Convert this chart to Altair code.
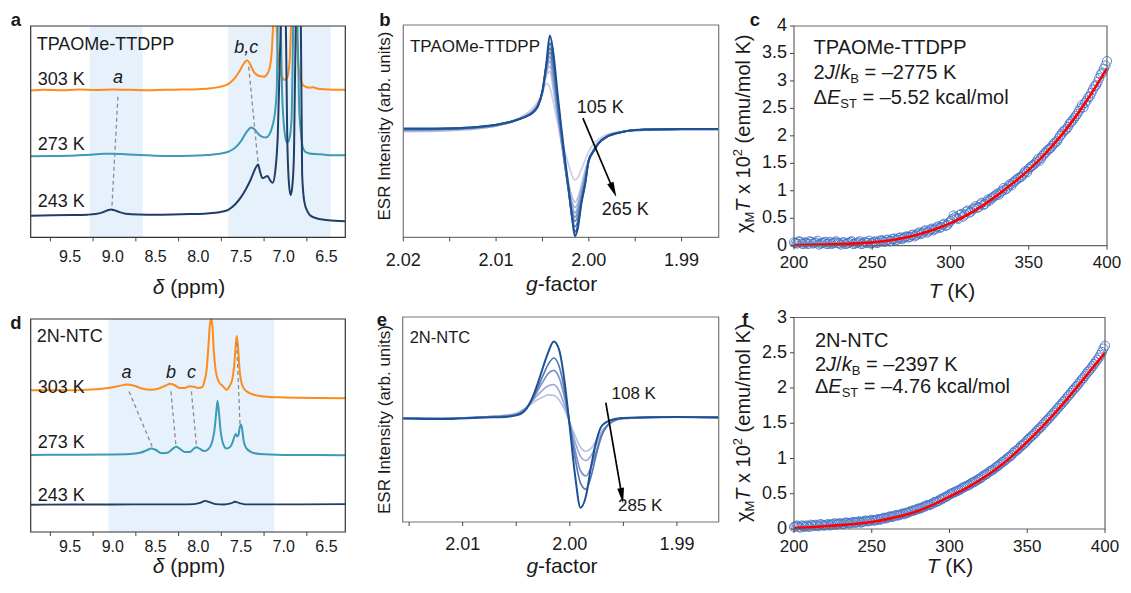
import altair as alt
import pandas as pd

W, H = 1114, 572
FONT = "Liberation Sans"
INK = "#1a1a1a"

# ------------------------------------------------------------------ data
# (a) 1H NMR, TPAOMe-TTDPP  (None = the trace leaves the top of the frame)
a303_ppm = [9.96, 9.80, 9.60, 9.40, 9.20, 9.00, 8.80, 8.60, 8.40, 8.20, 8.00, 7.85, 7.75, 7.65, 7.58, 7.52,
            7.47, 7.43, 7.40, 7.36, 7.32, 7.27, 7.23, 7.19, 7.16, 7.14, 7.125, None,
            7.085, 7.07, 7.05, 7.02, 6.99, 6.96, 6.93, 6.915, None,
            6.85, 6.835, 6.815, 6.79, 6.76, 6.70, 6.66, 6.60, 6.50, 6.40, 6.28]
a303_int = [69.5, 69.8, 69.6, 69.9, 69.7, 70.0, 69.8, 69.6, 69.8, 69.9, 70.1, 70.5, 71.2, 72.5, 75.0, 78.5,
            82.0, 83.8, 82.5, 79.0, 77.0, 76.2, 76.0, 77.5, 81.0, 88.0, 100, None,
            100, 88, 80, 76, 74.4, 75.5, 84, 100, None,
            100, 85, 77, 73, 71.5, 70.8, 71.0, 70.3, 70.0, 69.8, 69.8]
a273_ppm = [9.96, 9.70, 9.50, 9.30, 9.10, 9.00, 8.90, 8.70, 8.50, 8.30, 8.10, 7.90, 7.75, 7.65, 7.58, 7.50,
            7.44, 7.38, 7.34, 7.30, 7.25, 7.21, 7.17, 7.13, 7.10, 7.08, 7.07, None,
            7.035, 7.02, 7.00, 6.98, 6.96, 6.935, 6.91, 6.89, None,
            6.84, 6.82, 6.80, 6.78, 6.75, 6.70, 6.60, 6.50, 6.28]
a273_int = [38.3, 38.5, 38.6, 39.0, 39.5, 39.6, 39.4, 38.9, 38.6, 38.5, 38.6, 38.9, 39.5, 40.5, 42.0, 45.5,
            49.5, 52.0, 51.0, 49.0, 47.5, 47.2, 48.5, 53.0, 60.0, 72.0, 100, None,
            100, 70, 54, 47, 44.8, 46.5, 55, 100, None,
            100, 62, 50, 43, 40.5, 39.7, 39.3, 39.0, 38.8]
a243_ppm = [9.96, 9.70, 9.50, 9.30, 9.20, 9.12, 9.06, 9.02, 8.98, 8.92, 8.85, 8.70, 8.50, 8.30, 8.10, 7.90,
            7.75, 7.65, 7.57, 7.50, 7.44, 7.39, 7.35, 7.32, 7.30, 7.28, 7.25, 7.22, 7.19, 7.16, 7.13, 7.10,
            7.07, 7.035, None,
            6.975, 6.96, 6.94, 6.92, 6.90, 6.88, 6.86, None,
            6.80, 6.785, 6.76, 6.72, 6.68, 6.60, 6.50, 6.40, 6.28]
a243_int = [10.2, 10.4, 10.5, 10.7, 11.0, 11.8, 12.8, 13.2, 12.8, 11.9, 11.2, 10.8, 10.7, 10.8, 11.0, 11.3,
            11.9, 13.0, 15.5, 19.0, 23.0, 27.0, 31.0, 33.5, 34.5, 31.5, 28.0, 28.5, 29.0, 27.0, 25.8, 31.0,
            48.0, 100, None,
            100, 50, 26, 20, 24, 40, 100, None,
            100, 30, 17, 12, 10, 8.8, 8.2, 7.8, 7.6]
a_band_lo = [9.27, 7.65]
a_band_hi = [8.65, 6.45]
nmr_labels = [9.5, 9.0, 8.5, 8.0, 7.5, 7.0, 6.5]
nmr_minor = [9.73, 9.23, 8.73, 8.23, 7.73, 7.23, 6.73]

# (d) 1H NMR, 2N-NTC
d303_ppm = [9.96, 9.70, 9.40, 9.20, 9.05, 8.92, 8.84, 8.76, 8.66, 8.56, 8.46, 8.38, 8.33, 8.28, 8.22, 8.16,
            8.10, 8.05, 8.00, 7.96, 7.93, 7.90, 7.88, 7.865, 7.85, 7.835, 7.82, 7.80, 7.76, 7.71, 7.67, 7.63,
            7.60, 7.58, 7.565, 7.55, 7.535, 7.52, 7.50, 7.46, 7.40, 7.30, 7.20, 7.00, 6.80, 6.60, 6.28]
d303_int = [66.6, 66.5, 66.6, 67.0, 67.6, 68.6, 69.2, 68.8, 67.4, 66.8, 67.4, 68.8, 69.6, 69.0, 67.6, 67.6,
            68.4, 68.2, 67.6, 67.8, 70.5, 77.0, 88.0, 97.0, 100.0, 97.0, 86.0, 77.0, 70.5, 68.4, 66.8, 68.8,
            72.0, 78.0, 86.0, 92.0, 87.0, 78.0, 71.0, 67.0, 65.2, 64.0, 63.5, 63.2, 63.0, 62.9, 62.8]
d273_ppm = [9.96, 9.50, 9.00, 8.80, 8.68, 8.60, 8.55, 8.50, 8.43, 8.36, 8.30, 8.26, 8.22, 8.16, 8.10, 8.05,
            8.02, 7.98, 7.93, 7.88, 7.84, 7.81, 7.79, 7.775, 7.76, 7.74, 7.71, 7.67, 7.63, 7.60, 7.575, 7.56,
            7.545, 7.53, 7.515, 7.50, 7.485, 7.47, 7.44, 7.38, 7.28, 7.00, 6.60, 6.28]
d273_int = [36.2, 36.3, 36.4, 36.6, 37.2, 38.4, 39.2, 38.6, 37.0, 37.2, 39.0, 40.0, 39.2, 37.6, 37.6, 39.2,
            39.8, 39.0, 38.0, 39.0, 42.0, 48.0, 56.0, 61.5, 57.0, 48.0, 41.5, 39.2, 39.8, 42.0, 45.0, 46.0,
            44.8, 45.5, 49.0, 50.5, 48.0, 43.0, 39.5, 37.5, 36.6, 36.2, 36.1, 36.0]
d243_ppm = [9.96, 9.50, 9.00, 8.50, 8.20, 8.05, 7.97, 7.92, 7.87, 7.80, 7.70, 7.62, 7.57, 7.52, 7.45, 7.20,
            6.80, 6.28]
d243_int = [12.8, 12.9, 12.9, 13.0, 13.0, 13.1, 13.8, 14.6, 14.0, 13.1, 12.9, 13.4, 14.2, 13.6, 13.0, 13.0,
            13.0, 13.1]
d_band_lo = [9.05]
d_band_hi = [7.11]

# (b) ESR, TPAOMe-TTDPP, 105 K (light) ... 265 K (dark)
b_g = [2.0200, 2.0160, 2.0120, 2.0100, 2.0080, 2.0070, 2.0060, 2.0055, 2.0050, 2.0046,
       2.0042, 2.0038, 2.0034, 2.0030, 2.0026, 2.0022, 2.0018, 2.0015, 2.0012, 2.0008,
       2.0004, 2.0000, 1.9995, 1.9990, 1.9980, 1.9970, 1.9960, 1.9940, 1.9900, 1.9860]
b_esr = [
    [-0.5, 0, 2, 5, 10, 15, 22, 28, 36, 45, 41, 26, 9, -6, -19, -31, -42, -46, -44, -36,
     -27, -19, -12, -8, -3, -1, 0, 1, 1.5, 1.5],
    [0, 0.5, 2.5, 5, 9.5, 14, 20, 26, 36, 52, 56, 38, 14, -9, -30, -48, -62, -67, -63, -51,
     -37, -26, -17, -11, -4, -1.5, 0, 1, 1.5, 1.5],
    [0.5, 1, 3, 5, 9.5, 13.5, 19, 25, 36, 54, 61, 43, 16, -8, -31, -51, -67, -72, -68, -55,
     -40, -27, -18, -11, -4.5, -1.5, 0, 1, 1.5, 1.5],
    [1, 1.5, 3, 5.5, 9.5, 13, 18.5, 24, 37, 56, 66, 48, 19, -6, -31, -53, -71, -77, -72, -58,
     -42, -28, -18, -11, -4.5, -1.5, 0, 1.5, 2, 2],
    [1.5, 2, 3.5, 5.5, 9.5, 13, 18, 23.5, 37, 58, 70, 53, 22, -4, -31, -55, -74, -81, -76, -61,
     -44, -28, -19, -11.5, -5, -2, 0, 1.5, 2, 2],
    [1.5, 2, 3.5, 5.5, 9.5, 13, 18, 23, 37, 60, 74, 57, 25, -2, -30, -56, -77, -85, -80, -63,
     -46, -28, -19, -12, -5, -2, 0, 1.5, 2, 2],
    [2, 2, 3.5, 6, 10, 13, 18, 23, 37, 61, 78, 61, 29, 1, -29, -55, -80, -90, -85, -65,
     -48, -28, -19, -12, -5, -2, 0, 1.5, 2, 2],
    [2, 2.5, 4, 6, 10, 13, 17.5, 23, 38, 62, 83, 66, 33, 3, -27, -54, -82, -95, -89, -67,
     -50, -27, -19, -12, -5, -2, 0, 1.5, 2, 2],
    [2.5, 2.5, 4, 6, 10, 13, 18, 24, 38, 62, 90, 72, 38, 6, -24, -52, -82, -99, -92, -68,
     -50, -27, -19, -12, -5, -2, 0, 1.5, 2, 2],
]
b_colors = ["#c9d0e8", "#b6c1e1", "#a3b2d9", "#90a3d0", "#7d93c6", "#6a84bc", "#5675b1", "#3e64a4", "#1c5294"]
b_labels = [2.02, 2.01, 2.00, 1.99]
b_ticks = [2.020, 2.015, 2.010, 2.005, 2.000, 1.995, 1.990]

# (e) ESR, 2N-NTC, 108 K (light) ... 285 K (dark)
e_g = [2.0156, 2.0120, 2.0080, 2.0060, 2.0050, 2.0045, 2.0040, 2.0035, 2.0030, 2.0025,
       2.0020, 2.0015, 2.0010, 2.0005, 2.0000, 1.9995, 1.9990, 1.9985, 1.9980, 1.9975,
       1.9970, 1.9960, 1.9950, 1.9930, 1.9900, 1.9861]
e_esr = [
    [1.5, 1, 2.5, 4, 6, 8.5, 12, 16, 19.5, 22, 24, 23.5, 19, 10, -3, -16, -27, -31, -28, -20,
     -11, -2, 1, 2, 2.5, 2],
    [1.5, 1, 2.5, 4, 5.5, 8, 12, 18, 24, 29, 33, 34, 28, 14, -4, -22, -36, -40, -35, -24,
     -13, -2, 1, 2, 2.5, 2],
    [1.5, 1, 2.5, 3.5, 5, 7.5, 12, 19, 28, 37, 45, 48, 41, 22, -4, -30, -50, -55, -46, -30,
     -15, -2, 1, 2, 2.5, 2],
    [1, 1, 2, 3, 4.5, 7, 12, 20, 31, 43, 54, 60, 52, 29, -5, -38, -62, -68, -55, -33,
     -15, -1.5, 1.5, 2, 2.5, 2],
    [1, 0.5, 2, 2.5, 4, 6, 11, 21, 35, 51, 66, 76, 68, 38, -8, -55, -86, -75, -45, -20,
     -6, 0, 1.5, 2, 2.5, 2],
]
e_colors = ["#b9c4e5", "#9aabd9", "#7a91ca", "#5877b8", "#1c5294"]
e_labels = [2.01, 2.00, 1.99]
e_ticks = [2.015, 2.010, 2.005, 2.000, 1.995, 1.990]

# (c) chi_M T x 10^2 vs T, TPAOMe-TTDPP  (two interleaved sweeps)
T_even = [200, 202, 204, 206, 208, 210, 212, 214, 216, 218, 220, 222, 224, 226, 228, 230, 232, 234, 236, 238,
          240, 242, 244, 246, 248, 250, 252, 254, 256, 258, 260, 262, 264, 266, 268, 270, 272, 274, 276, 278,
          280, 282, 284, 286, 288, 290, 292, 294, 296, 298, 300, 302, 304, 306, 308, 310, 312, 314, 316, 318,
          320, 322, 324, 326, 328, 330, 332, 334, 336, 338, 340, 342, 344, 346, 348, 350, 352, 354, 356, 358,
          360, 362, 364, 366, 368, 370, 372, 374, 376, 378, 380, 382, 384, 386, 388, 390, 392, 394, 396, 398, 400]
T_odd = [201, 203, 205, 207, 209, 211, 213, 215, 217, 219, 221, 223, 225, 227, 229, 231, 233, 235, 237, 239,
         241, 243, 245, 247, 249, 251, 253, 255, 257, 259, 261, 263, 265, 267, 269, 271, 273, 275, 277, 279,
         281, 283, 285, 287, 289, 291, 293, 295, 297, 299, 301, 303, 305, 307, 309, 311, 313, 315, 317, 319,
         321, 323, 325, 327, 329, 331, 333, 335, 337, 339, 341, 343, 345, 347, 349, 351, 353, 355, 357, 359,
         361, 363, 365, 367, 369, 371, 373, 375, 377, 379, 381, 383, 385, 387, 389, 391, 393, 395, 397, 399]
c_chiT_even = [0.06, 0.04, 0.07, 0.03, 0.05, 0.08, 0.04, 0.06, 0.02, 0.05, 0.07, 0.04, 0.03, 0.06, 0.05, 0.02,
               0.06, 0.04, 0.07, 0.03, 0.05, 0.08, 0.04, 0.06, 0.09, 0.05, 0.08, 0.06, 0.10, 0.07, 0.11, 0.09,
               0.13, 0.11, 0.15, 0.14, 0.17, 0.16, 0.20, 0.19, 0.24, 0.23, 0.28, 0.26, 0.31, 0.30, 0.35, 0.34,
               0.40, 0.38, 0.45, 0.55, 0.50, 0.56, 0.53, 0.62, 0.60, 0.66, 0.72, 0.70, 0.78, 0.76, 0.84, 0.86,
               0.90, 0.95, 0.97, 1.05, 1.04, 1.12, 1.15, 1.20, 1.24, 1.28, 1.36, 1.40, 1.45, 1.50, 1.58, 1.60,
               1.68, 1.74, 1.78, 1.86, 1.90, 2.00, 2.08, 2.12, 2.22, 2.28, 2.36, 2.45, 2.56, 2.60, 2.70, 2.78,
               2.90, 2.98, 3.12, 3.22, 3.36]
c_chiT_odd = [0.05, 0.08, 0.04, 0.06, 0.03, 0.07, 0.05, 0.09, 0.04, 0.06, 0.03, 0.07, 0.05, 0.08, 0.04, 0.06,
              0.03, 0.05, 0.08, 0.04, 0.06, 0.03, 0.07, 0.05, 0.04, 0.07, 0.05, 0.09, 0.08, 0.10, 0.08, 0.12,
              0.10, 0.14, 0.12, 0.16, 0.15, 0.19, 0.17, 0.22, 0.21, 0.26, 0.24, 0.29, 0.28, 0.33, 0.32, 0.38,
              0.36, 0.42, 0.48, 0.52, 0.49, 0.58, 0.57, 0.64, 0.62, 0.68, 0.69, 0.75, 0.74, 0.80, 0.82, 0.88,
              0.92, 0.93, 1.00, 1.02, 1.08, 1.10, 1.17, 1.22, 1.25, 1.32, 1.34, 1.43, 1.47, 1.53, 1.55, 1.64,
              1.70, 1.76, 1.82, 1.88, 1.95, 2.03, 2.10, 2.16, 2.25, 2.32, 2.40, 2.50, 2.52, 2.64, 2.72, 2.84,
              2.92, 3.05, 3.15, 3.28]
fit_T = [200, 210, 220, 230, 240, 250, 260, 270, 280, 290, 300, 310, 320, 330, 340, 350, 360, 370, 380, 390, 400]
c_fit = [0.010, 0.015, 0.022, 0.030, 0.043, 0.060, 0.090, 0.140, 0.210, 0.300, 0.410, 0.550, 0.720, 0.920,
         1.140, 1.380, 1.660, 1.980, 2.350, 2.770, 3.230]
T_labels = [200, 250, 300, 350, 400]
c_ylabels = [0, 0.5, 1, 1.5, 2, 2.5, 3, 3.5, 4]

# (f) chi_M T x 10^2 vs T, 2N-NTC
f_chiT_even = [0.03, 0.05, 0.02, 0.04, 0.05, 0.03, 0.05, 0.06, 0.04, 0.06,
               0.05, 0.07, 0.06, 0.08, 0.07, 0.08, 0.07, 0.09, 0.08, 0.10,
               0.09, 0.11, 0.10, 0.12, 0.11, 0.13, 0.12, 0.14, 0.14, 0.16,
               0.16, 0.18, 0.18, 0.20, 0.20, 0.22, 0.23, 0.24, 0.26, 0.27,
               0.29, 0.30, 0.32, 0.34, 0.35, 0.38, 0.39, 0.42, 0.44, 0.46,
               0.49, 0.51, 0.53, 0.55, 0.58, 0.60, 0.62, 0.65, 0.67, 0.70,
               0.72, 0.76, 0.78, 0.82, 0.84, 0.88, 0.91, 0.95, 0.98, 1.02,
               1.05, 1.10, 1.13, 1.18, 1.21, 1.26, 1.30, 1.34, 1.39, 1.43,
               1.48, 1.53, 1.57, 1.62, 1.67, 1.72, 1.77, 1.82, 1.88, 1.93,
               1.98, 2.03, 2.09, 2.14, 2.20, 2.25, 2.31, 2.37, 2.43, 2.51,
               2.60]
f_chiT_odd = [0.04, 0.03, 0.05, 0.03, 0.04, 0.06, 0.04, 0.05, 0.07, 0.05,
              0.06, 0.05, 0.07, 0.06, 0.08, 0.07, 0.09, 0.08, 0.09, 0.09,
              0.10, 0.09, 0.11, 0.11, 0.12, 0.12, 0.13, 0.13, 0.15, 0.15,
              0.17, 0.17, 0.19, 0.19, 0.21, 0.21, 0.23, 0.25, 0.26, 0.28,
              0.29, 0.31, 0.33, 0.34, 0.36, 0.38, 0.40, 0.42, 0.45, 0.47,
              0.50, 0.52, 0.54, 0.56, 0.59, 0.61, 0.63, 0.66, 0.68, 0.71,
              0.74, 0.77, 0.80, 0.83, 0.86, 0.89, 0.93, 0.96, 1.00, 1.03,
              1.08, 1.11, 1.15, 1.19, 1.23, 1.28, 1.32, 1.36, 1.41, 1.45,
              1.50, 1.55, 1.60, 1.65, 1.70, 1.75, 1.80, 1.85, 1.90, 1.96,
              2.01, 2.06, 2.12, 2.17, 2.23, 2.28, 2.34, 2.40, 2.47, 2.56]
f_fit = [0.015, 0.025, 0.040, 0.055, 0.075, 0.100, 0.140, 0.190, 0.260, 0.350, 0.460, 0.570, 0.700, 0.850,
         1.030, 1.240, 1.460, 1.700, 1.960, 2.230, 2.500]
f_ylabels = [0, 0.5, 1, 1.5, 2, 2.5, 3]

# ------------------------------------------------------------------ layout (chart pixels)
A_X, A_Y = [22.7, 337.3], [229.3, 18.0]
B_X, B_Y = [395.3, 710.7], [229.3, 17.0]
C_X, C_Y = [786.0, 1099.0], [237.7, 18.0]
D_X, D_Y = [22.7, 337.3], [524.0, 311.0]
E_X, E_Y = [394.7, 710.7], [514.0, 309.0]
F_X, F_Y = [786.0, 1097.0], [521.0, 309.5]

ORANGE, TEAL, NAVY = "#ff8c1a", "#3a9bb4", "#213f66"
BAND = "#e7f1fc"


def sc(dom, rng):
    return alt.Scale(domain=dom, range=rng, nice=False, zero=False)


sa_x, sa_y = sc([9.96, 6.28], A_X), sc([0, 100], A_Y)
sd_x, sd_y = sc([9.96, 6.28], D_X), sc([0, 100], D_Y)
sb_x, sb_y = sc([2.020, 1.986], B_X), sc([-100, 100], B_Y)
se_x, se_y = sc([2.0156, 1.9861], E_X), sc([-100, 100], E_Y)
sc_x, sc_y = sc([200, 400], C_X), sc([0, 4], C_Y)
sf_x, sf_y = sc([200, 400], F_X), sc([0, 3], F_Y)

EM = {' ': .278, '.': .278, '/': .278, '=': .584, '–': .556, '(': .333, ')': .333, '-': .333,
      'K': .667, 'k': .5, 'c': .5, 'a': .556, 'l': .222, 'm': .833, 'o': .556, 'e': .556, 'u': .556,
      'x': .5, 'J': .5, 'B': .667, 'E': .667, 'S': .667, 'T': .611, 'M': .833, 'Δ': .668, 'χ': .52,
      'δ': .556, 'p': .556, 'g': .556, 'f': .278, 't': .278, 'r': .333, 'N': .722, 'C': .722,
      'P': .667, 'D': .722, 'A': .667, 'O': .778}


def tw(s, size):
    return sum(EM.get(ch, .556) for ch in s) * size


def XE(sx, f='x'):
    return alt.X(f + ':Q', scale=sx, axis=None)


def YE(sy, f='y'):
    return alt.Y(f + ':Q', scale=sy, axis=None)


def rich(pieces, x=None, y=None, sx=None, sy=None, px=None, py=None, angle=None, center=False):
    total = sum(tw(p[0], p[1]) for p in pieces)
    off = -total / 2 if center else 0.0
    out = []
    for p in pieces:
        t, size = p[0], p[1]
        style = p[2] if len(p) > 2 else 'normal'
        shift = p[3] if len(p) > 3 else 0
        lead = len(t) - len(t.lstrip(' '))
        off_here = off + lead * EM[' '] * size
        props = dict(font=FONT, fontSize=size, fontStyle=style, align='left', baseline='alphabetic',
                     dx=off_here, dy=shift, color=INK)
        if angle is not None:
            props['angle'] = angle
        if sx is not None:
            df = pd.DataFrame({'x': [x], 'y': [y], 't': [t.strip()]})
            enc = dict(x=XE(sx), y=YE(sy), text='t:N')
        else:
            df = pd.DataFrame({'t': [t.strip()]})
            enc = dict(x=alt.value(px), y=alt.value(py), text='t:N')
        out.append(alt.Chart(df).mark_text(**props).encode(**enc))
        off += tw(t, size)
    return out


def note(x, y, t, sx, sy, size, style='normal', align='left', baseline='middle'):
    return alt.Chart(pd.DataFrame({'x': [x], 'y': [y], 't': [t]})).mark_text(
        font=FONT, fontSize=size, fontStyle=style, align=align, baseline=baseline, color=INK
    ).encode(x=XE(sx), y=YE(sy), text='t:N')


def pix_text(t, px, py, size, angle=None, weight='normal', align='center', baseline='middle'):
    props = dict(font=FONT, fontSize=size, fontWeight=weight, align=align, baseline=baseline, color=INK)
    if angle is not None:
        props['angle'] = angle
    return alt.Chart(pd.DataFrame({'t': [t]})).mark_text(**props).encode(
        x=alt.value(px), y=alt.value(py), text='t:N')


def seg_df(xs, ys):
    rows, s = [], 0
    for xv, yv in zip(xs, ys):
        if xv is None:
            s += 1
            continue
        rows.append((xv, yv, s))
    return pd.DataFrame(rows, columns=['x', 'y', 's'])


def line(xs, ys, sx, sy, color, width=2.0):
    return alt.Chart(seg_df(xs, ys)).mark_line(color=color, strokeWidth=width, interpolate='monotone').encode(
        x=XE(sx), y=YE(sy), detail='s:N')


def band(lo, hi, ydom, sx, sy):
    df = pd.DataFrame({'x': lo, 'x2': hi, 'y': [ydom[0]] * len(lo), 'y2': [ydom[1]] * len(lo)})
    return alt.Chart(df).mark_rect(color=BAND).encode(x=XE(sx), x2='x2:Q', y=YE(sy), y2='y2:Q')


def dashes(x1, y1, x2, y2, sx, sy):
    df = pd.DataFrame({'x': x1, 'y': y1, 'x2': x2, 'y2': y2})
    return alt.Chart(df).mark_rule(color='#8c8c8c', strokeWidth=1.3, strokeDash=[4, 3]).encode(
        x=XE(sx), x2='x2:Q', y=YE(sy), y2='y2:Q')


def arrow(x1, y1, x2, y2, ang, sx, sy):
    df = pd.DataFrame({'x': [x1], 'y': [y1], 'x2': [x2], 'y2': [y2]})
    shaft = alt.Chart(df).mark_rule(color='black', strokeWidth=1.7).encode(
        x=XE(sx), x2='x2:Q', y=YE(sy), y2='y2:Q')
    head = alt.Chart(pd.DataFrame({'x': [x2], 'y': [y2]})).mark_point(
        shape='M0,-1L0.45,1L-0.45,1Z', size=230, filled=True, color='black', opacity=1, angle=ang
    ).encode(x=XE(sx), y=YE(sy))
    return [shaft, head]


def frame(sx, sy, xdom, ydom, stroke):
    df = pd.DataFrame({'x': [xdom[0]], 'x2': [xdom[1]], 'y': [ydom[0]], 'y2': [ydom[1]]})
    return alt.Chart(df).mark_rect(fillOpacity=0, stroke=stroke, strokeWidth=1.2).encode(
        x=XE(sx), x2='x2:Q', y=YE(sy), y2='y2:Q')


def fmt_num(v, digits=None):
    if digits is not None:
        return f"{v:.{digits}f}"
    return f"{v:g}"


def x_axis(label_vals, tick_vals, ybase, sx, sy, size, label_dy, digits=None, tick_len=4):
    n = len(tick_vals)
    ticks = alt.Chart(pd.DataFrame({'x': tick_vals, 'y': [ybase] * n, 'y2': [ybase] * n})).mark_rule(
        color='#444444', strokeWidth=1, y2Offset=tick_len).encode(x=XE(sx), y=YE(sy), y2='y2:Q')
    m = len(label_vals)
    labels = alt.Chart(pd.DataFrame({'x': label_vals, 'y': [ybase] * m,
                                     't': [fmt_num(v, digits) for v in label_vals]})).mark_text(
        font=FONT, fontSize=size, color=INK, align='center', baseline='middle', dy=label_dy
    ).encode(x=XE(sx), y=YE(sy), text='t:N')
    return [ticks, labels]


def y_axis(label_vals, xbase, sx, sy, size, label_dx, tick_len=4):
    n = len(label_vals)
    ticks = alt.Chart(pd.DataFrame({'x': [xbase] * n, 'x2': [xbase] * n, 'y': label_vals})).mark_rule(
        color='#444444', strokeWidth=1, x2Offset=-tick_len).encode(x=XE(sx), x2='x2:Q', y=YE(sy))
    labels = alt.Chart(pd.DataFrame({'x': [xbase] * n, 'y': label_vals,
                                     't': [fmt_num(v) for v in label_vals]})).mark_text(
        font=FONT, fontSize=size, color=INK, align='right', baseline='middle', dx=label_dx
    ).encode(x=XE(sx), y=YE(sy), text='t:N')
    return [ticks, labels]


TITLE_Y_BOTTOM = 565

# ------------------------------------------------------------------ panel a
pa = [band(a_band_lo, a_band_hi, [0, 100], sa_x, sa_y),
      line(a303_ppm, a303_int, sa_x, sa_y, ORANGE),
      line(a273_ppm, a273_int, sa_x, sa_y, TEAL),
      line(a243_ppm, a243_int, sa_x, sa_y, NAVY),
      dashes([8.94, 7.41], [66.5, 80.7], [9.01, 7.30], [14.5, 35.0], sa_x, sa_y),
      note(9.89, 91.0, "TPAOMe-TTDPP", sa_x, sa_y, 18),
      note(9.878, 74.4, "303 K", sa_x, sa_y, 18),
      note(9.878, 43.7, "273 K", sa_x, sa_y, 18),
      note(9.878, 16.8, "243 K", sa_x, sa_y, 18),
      note(8.94, 75.2, "a", sa_x, sa_y, 18, style='italic', align='center'),
      note(7.44, 89.4, "b,c", sa_x, sa_y, 18, style='italic', align='center'),
      frame(sa_x, sa_y, [9.96, 6.28], [0, 100], '#333333')]
pa += x_axis(nmr_labels, nmr_minor, 0, sa_x, sa_y, 16, 20, digits=1)
pa += rich([("δ", 21, 'italic'), (" (ppm)", 21)], px=181, py=286, center=True)

# ------------------------------------------------------------------ panel d
pd_ = [band(d_band_lo, d_band_hi, [0, 100], sd_x, sd_y),
       line(d303_ppm, d303_int, sd_x, sd_y, ORANGE),
       line(d273_ppm, d273_int, sd_x, sd_y, TEAL),
       line(d243_ppm, d243_int, sd_x, sd_y, NAVY, width=1.8),
       dashes([8.81, 8.32, 8.08, 7.55], [66.0, 66.0, 66.0, 88.7], [8.54, 8.26, 8.02, 7.51],
              [40.2, 40.2, 40.2, 48.8], sd_x, sd_y),
       note(9.89, 91.5, "2N-NTC", sd_x, sd_y, 18),
       note(9.878, 67.6, "303 K", sd_x, sd_y, 18),
       note(9.878, 41.8, "273 K", sd_x, sd_y, 18),
       note(9.878, 17.0, "243 K", sd_x, sd_y, 18),
       note(8.84, 74.5, "a", sd_x, sd_y, 18, style='italic', align='center'),
       note(8.32, 74.5, "b", sd_x, sd_y, 18, style='italic', align='center'),
       note(8.08, 74.5, "c", sd_x, sd_y, 18, style='italic', align='center'),
       frame(sd_x, sd_y, [9.96, 6.28], [0, 100], '#333333')]
pd_ += x_axis(nmr_labels, nmr_minor, 0, sd_x, sd_y, 16, 15, digits=1)
pd_ += rich([("δ", 21, 'italic'), (" (ppm)", 21)], px=181, py=TITLE_Y_BOTTOM, center=True)

# ------------------------------------------------------------------ panel b
pb = []
for k, vals in enumerate(b_esr):
    df = pd.DataFrame({'x': b_g, 'y': vals})
    pb.append(alt.Chart(df).mark_line(color=b_colors[k], strokeWidth=1.7 if k < 8 else 2.0,
                                      interpolate='monotone').encode(x=XE(sb_x), y=YE(sb_y)))
pb += [note(2.01928, 79.6, "TPAOMe-TTDPP", sb_x, sb_y, 17),
       note(2.00131, 21.6, "105 K", sb_x, sb_y, 18),
       note(1.99862, -74.3, "265 K", sb_x, sb_y, 18)]
pb += arrow(2.00064, 12.2, 1.99736, -55.4, 157, sb_x, sb_y)
pb.append(frame(sb_x, sb_y, [2.020, 1.986], [-100, 100], '#777777'))
pb += x_axis(b_labels, b_ticks, -100, sb_x, sb_y, 18, 24, digits=2)
pb.append(pix_text("ESR Intensity (arb. units)", 377, 118, 17, angle=270))
pb += rich([("g", 21, 'italic'), ("-factor", 21)], px=553.7, py=283, center=True)

# ------------------------------------------------------------------ panel e
pe = []
for k, vals in enumerate(e_esr):
    df = pd.DataFrame({'x': e_g, 'y': vals})
    pe.append(alt.Chart(df).mark_line(color=e_colors[k], strokeWidth=1.7 if k < 4 else 2.0,
                                      interpolate='monotone').encode(x=XE(se_x), y=YE(se_y)))
pe += [note(2.01495, 79.5, "2N-NTC", se_x, se_y, 16.5),
       note(1.99611, 24.4, "108 K", se_x, se_y, 17),
       note(1.99550, -84.1, "285 K", se_x, se_y, 17)]
pe += arrow(1.99664, 16.5, 1.99514, -74.3, 170.5, se_x, se_y)
pe.append(frame(se_x, se_y, [2.0156, 1.9861], [-100, 100], '#777777'))
pe += x_axis(e_labels, e_ticks, -100, se_x, se_y, 18, 23, digits=2)
pe.append(pix_text("ESR Intensity (arb. units)", 377, 411.5, 17, angle=270))
pe += rich([("g", 21, 'italic'), ("-factor", 21)], px=554, py=TITLE_Y_BOTTOM, center=True)


# ------------------------------------------------------------------ panels c, f
def magnet_panel(chi_even, chi_odd, fitv, sx, sy, ylabels, ymax, name, j, est, ytitle_start,
                 xtitle_x, xtitle_y, t0, ybase, xlab_dy):
    pts = pd.DataFrame({'x': T_even + T_odd, 'y': chi_even + chi_odd})
    layers = [
        alt.Chart(pts).mark_point(
            shape='circle', filled=False, size=85, strokeWidth=1.0, color='#4472c4', opacity=0.85
        ).encode(x=XE(sx), y=YE(sy)),
        alt.Chart(pd.DataFrame({'x': fit_T, 'y': fitv})).mark_line(
            color='#ff0000', strokeWidth=2.6, interpolate='monotone').encode(x=XE(sx), y=YE(sy)),
    ]
    layers += rich([(name, 20)], x=t0, y=ybase[0], sx=sx, sy=sy)
    layers += rich([("2", 20), ("J", 20, 'italic'), ("/", 20), ("k", 20, 'italic'), ("B", 13, 'normal', 4),
                    (" = –" + j + " K", 20)], x=t0, y=ybase[1], sx=sx, sy=sy)
    layers += rich([("Δ", 20), ("E", 20, 'italic'), ("ST", 13, 'normal', 4),
                    (" = –" + est + " kcal/mol", 20)], x=t0, y=ybase[2], sx=sx, sy=sy)
    layers.append(frame(sx, sy, [200, 400], [0, ymax], '#666666'))
    layers += x_axis(T_labels, T_labels, 0, sx, sy, 17, xlab_dy)
    layers += y_axis(ylabels, 200, sx, sy, 18, -7)
    layers += rich([("χ", 20), ("M", 13, 'normal', 4), ("T", 20, 'italic'), (" x 10", 20),
                    ("2", 13, 'normal', -8), (" (emu/mol K)", 20)],
                   px=742, py=ytitle_start, angle=270)
    layers += rich([("T", 21, 'italic'), (" (K)", 21)], px=xtitle_x, py=xtitle_y, center=True)
    return layers


pc = magnet_panel(c_chiT_even, c_chiT_odd, c_fit, sc_x, sc_y, c_ylabels, 4, "TPAOMe-TTDPP", "2775", "5.52",
                  225, 944, 290, 212.5, [3.494, 3.038, 2.583], 17)
pf = magnet_panel(f_chiT_even, f_chiT_odd, f_fit, sf_x, sf_y, f_ylabels, 3, "2N-NTC", "2397", "4.76",
                  514, 942, TITLE_Y_BOTTOM, 213.5, [2.588, 2.244, 1.924], 18)

# ------------------------------------------------------------------ panel letters
letters = []
for t, x, y in [("a", 8, 17.5), ("b", 377, 17.5), ("c", 747, 17.5),
                ("d", 8, 321), ("e", 374, 318), ("f", 737, 318)]:
    letters.append(pix_text(t, x, y, 18.5, weight='bold', baseline='alphabetic'))

panels = [alt.layer(*pa), alt.layer(*pb), alt.layer(*pc), alt.layer(*pd_), alt.layer(*pe), alt.layer(*pf)]
chart = alt.layer(*panels, *letters).resolve_scale(x='independent', y='independent').properties(
    width=W, height=H, padding=0, autosize=alt.AutoSizeParams(type='none')
).configure_view(stroke=None)

chart.save("out.html", embed_options={"renderer": "svg", "actions": False})
